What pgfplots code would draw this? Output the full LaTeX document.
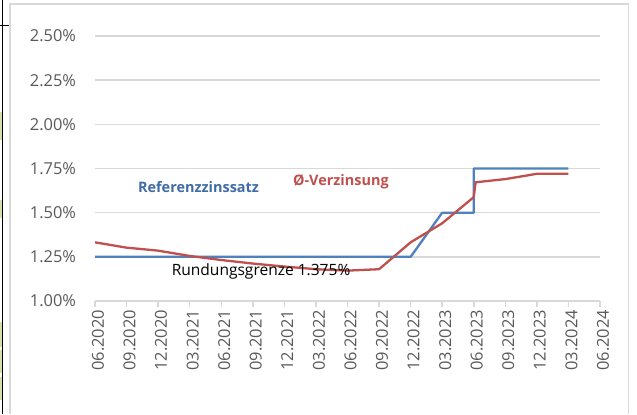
\documentclass[border=0pt]{standalone}
\usepackage{pgfplots}
\pgfplotsset{compat=1.18}
\usepackage{fontspec}
\setmainfont{Open Sans}
\definecolor{gridgray}{HTML}{D9D9D9}
\definecolor{ticktext}{HTML}{595959}
\definecolor{refblue}{HTML}{4F81BD}
\definecolor{refbluetxt}{HTML}{3F6CA6}
\definecolor{avgred}{HTML}{C0504D}
\definecolor{cellgreen}{HTML}{D4E0A8}
\begin{document}
\begin{tikzpicture}[x=1bp,y=1bp]
\path[use as bounding box] (0,0) rectangle (637,414);
% spreadsheet remnants
\fill[cellgreen] (0,414-140) rectangle (2.5,414-112);
\fill[cellgreen] (0,414-218) rectangle (2.5,414-200);
\fill[cellgreen] (0,414-347) rectangle (2.5,414-322);
\fill[cellgreen] (0,414-373) rectangle (2.5,414-350);
\fill[cellgreen] (0,414-400) rectangle (2.5,414-377);
\draw[black, line width=0.8bp] (2.5,0) -- (2.5,414);
\draw[black, line width=0.8bp] (0,414-25) -- (10,414-25);
% chart frame
\draw[gridgray, line width=1.2bp] (10,0) -- (10,410) -- (628.5,410) -- (628.5,0);
\begin{axis}[
  at={(95bp,113bp)}, anchor=south west,
  width=505bp, height=265bp, scale only axis,
  xmin=0, xmax=16, ymin=1, ymax=2.5,
  axis line style={draw=none},
  axis x line*=bottom, axis y line*=left,
  ymajorgrids, grid style={gridgray, line width=1.5bp},
  ytick={1,1.25,1.5,1.75,2,2.25,2.5},
  yticklabels={1.00\%,1.25\%,1.50\%,1.75\%,2.00\%,2.25\%,2.50\%},
  xtick={0,1,...,16},
  xticklabels={06.2020,09.2020,12.2020,03.2021,06.2021,09.2021,12.2021,03.2022,06.2022,09.2022,12.2022,03.2023,06.2023,09.2023,12.2023,03.2024,06.2024},
  ytick style={draw=none},
  xtick style={gridgray, line width=1.5bp},
  major tick length=5.5bp,
  tick align=outside,
  ticklabel style={font=\fontsize{16.5}{18}\selectfont, text=ticktext},
  yticklabel style={xshift=-10bp},
  xticklabel style={rotate=90, anchor=east, xshift=0bp, yshift=-3bp},
  clip=false,
]
\draw[gridgray, line width=1.5bp] (axis cs:0,1) -- (axis cs:16,1);
\addplot[refblue, line width=2.3bp, line join=round] coordinates {
 (0,1.25) (10,1.25) (11,1.50) (12,1.50) (12,1.75) (15,1.75)
};
\addplot[avgred, line width=2.3bp, line join=round] coordinates {
 (0,1.332) (1,1.302) (2,1.285) (3,1.255) (4,1.232) (5,1.212) (6,1.195)
 (7,1.180) (8,1.172) (9,1.180) (10,1.332) (11,1.440) (12,1.588) (12.06,1.672)
 (13,1.690) (14,1.720) (15,1.720)
};
\node[font=\fontsize{14.5}{16}\selectfont\bfseries, text=refbluetxt] at (axis cs:3.28,1.647) {Referenzzinssatz};
\node[font=\fontsize{14.5}{16}\selectfont\bfseries, text=avgred] at (axis cs:7.79,1.675) {Ø-Verzinsung};
\node[font=\fontsize{15.6}{17}\selectfont, text=black] at (axis cs:5.26,1.166) {Rundungsgrenze 1.375\%};
\end{axis}
\end{tikzpicture}
\end{document}
